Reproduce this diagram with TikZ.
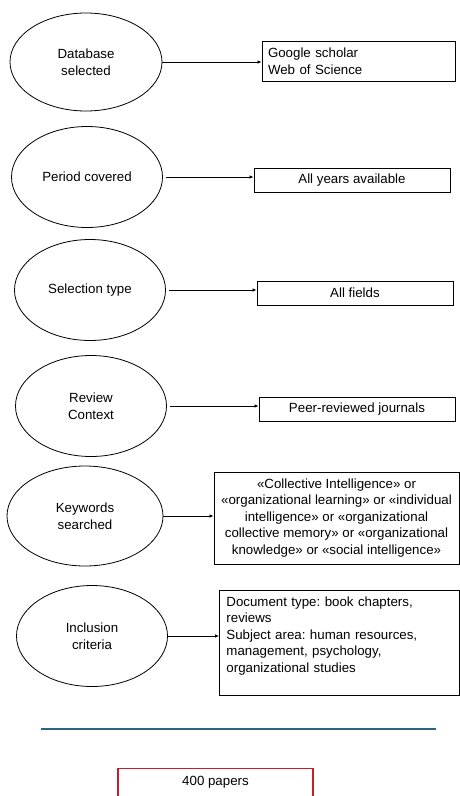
\documentclass[tikz,border=0pt]{standalone}
\usepackage{fontspec}
\setmainfont{Liberation Sans}
\usetikzlibrary{arrows.meta,shapes.geometric}
\definecolor{rulerblue}{HTML}{2A6584}
\definecolor{countred}{HTML}{C81D25}
\frenchspacing

\begin{document}
\begin{tikzpicture}[x=1pt,y=-1pt,font=\fontsize{13.3}{16.5}\selectfont,
    stage/.style={draw,ellipse,line width=0.8pt,inner sep=0pt,align=center,minimum width=151pt,minimum height=101pt},
    detail/.style={draw,rectangle,line width=0.9pt,inner xsep=6pt,inner ysep=2pt},
    feed/.style={-{Latex[length=4pt,width=3.5pt]},line width=0.7pt}]
        \useasboundingbox (0,0) rectangle (460,796);
        % left column
        \node[stage,minimum width=152pt,minimum height=98pt] (db) at (86,62) {Database\\selected};
        \node[stage] (period) at (87,177) {Period covered};
        \node[stage] (seltype) at (90,290) {Selection type};
        \node[stage] (review) at (91,406) {Review\\Context};
        \node[stage,minimum width=156pt,minimum height=100pt] (keys) at (85,516) {Keywords\\searched};
        \node[stage] (incl) at (92,636) {Inclusion\\criteria};
        % right column
        \node[detail,minimum width=193pt,minimum height=40pt,text width=181pt,align=left] (dbs) at (358.5,61) {Google scholar\\Web of Science};
        \node[detail,minimum width=196pt,minimum height=24pt] (years) at (352,180) {All years available};
        \node[detail,minimum width=196pt,minimum height=24pt] (fields) at (355,293) {All fields};
        \node[detail,minimum width=196pt,minimum height=24pt] (journals) at (357,409) {Peer-reviewed journals};
        \node[detail,minimum width=245pt,minimum height=92pt,inner sep=1pt,align=center] (terms) at (336.5,518)
            {«Collective Intelligence» or\\«organizational learning» or «individual\\intelligence» or «organizational\\collective memory» or «organizational\\knowledge» or «social intelligence»};
        \node[detail,anchor=north west,text width=226pt,inner xsep=7pt,inner ysep=6pt,align=left] (crit) at (219,590)
            {Document type: book chapters,\\reviews\\Subject area: human resources,\\management, psychology,\\organizational studies\rule[-17pt]{0pt}{0pt}};
        % arrows
        \draw[feed] (db.east) -- (db.east -| dbs.west);
        \draw[feed,shorten <=3pt] (period.east) -- (period.east -| years.west);
        \draw[feed,shorten <=3pt] (seltype.east) -- (seltype.east -| fields.west);
        \draw[feed,shorten <=3pt] (review.east) -- (review.east -| journals.west);
        \draw[feed] (keys.east) -- (keys.east -| terms.west);
        \draw[feed] (incl.east) -- (incl.east -| crit.west);
        % divider and count
        \draw[rulerblue,line width=1.3pt] (41,729) -- (436,729);
        \node[draw=countred,line width=1.1pt,anchor=north,minimum width=195pt,inner ysep=5pt,text height=12pt,text depth=30pt] (papers) at (215.5,768) {400 papers};
      \end{tikzpicture}
\end{document}
